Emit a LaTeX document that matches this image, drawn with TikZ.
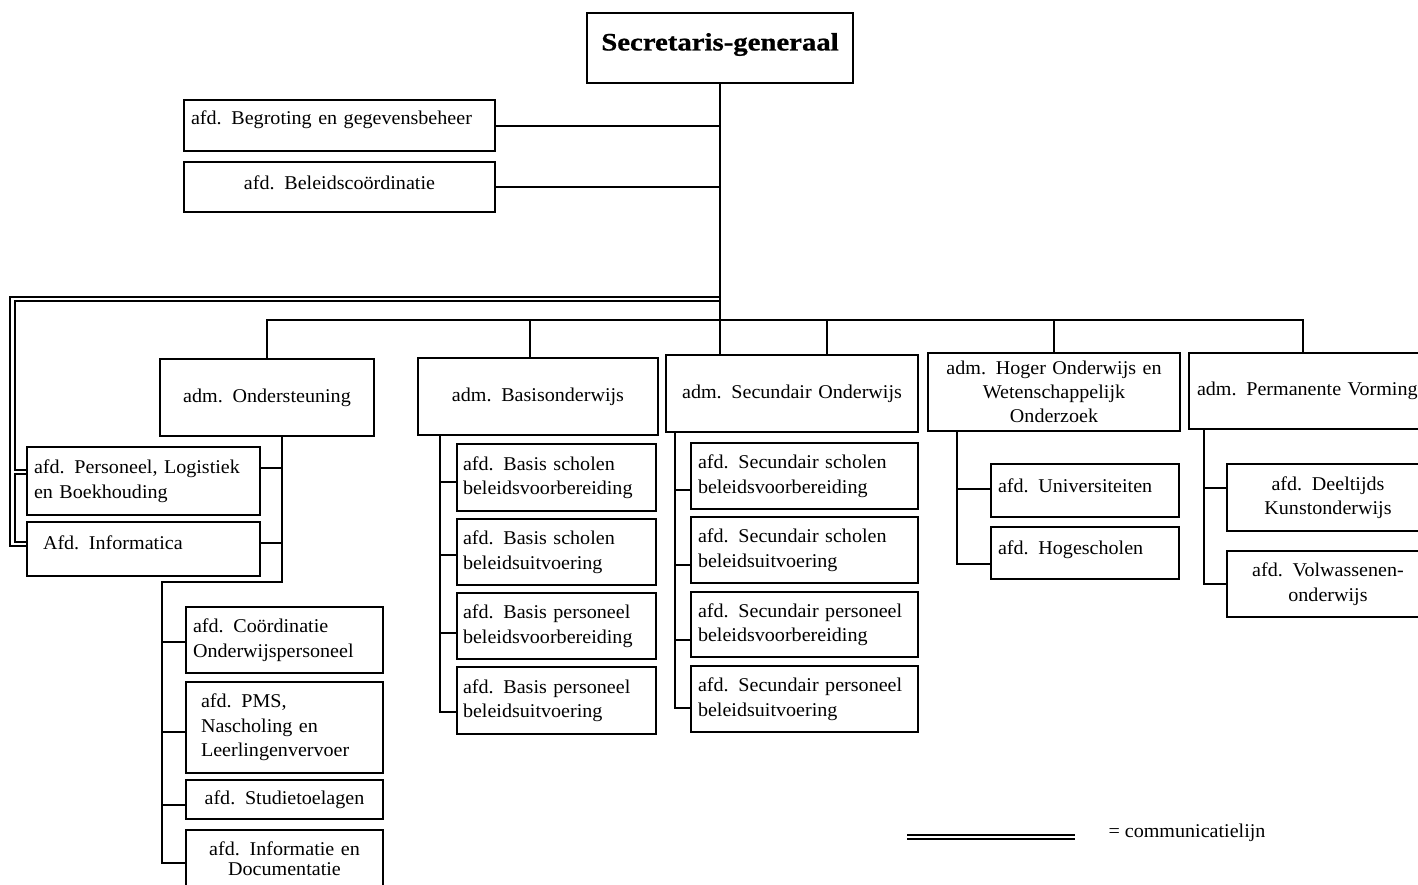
\documentclass[tikz,border=0pt]{standalone}
\usepackage{fontspec}
\setmainfont[FakeStretch=1.03]{Liberation Serif}
\newfontfamily\titlefont[FakeStretch=1.15,FakeBold=0.8]{Liberation Serif}
\usetikzlibrary{calc}
\begin{document}
\begin{tikzpicture}[x=1pt,y=-1pt,
  every node/.style={font=\fontsize{19.5}{24.5}\selectfont},
  unit/.style={draw, line width=2pt, inner ysep=0pt, anchor=north west},
  lft/.style={align=left},
  ctr/.style={align=center},
  link/.style={line width=2pt},
  comm/.style={draw, double, line width=1.8pt, double distance=2.8pt}]
\useasboundingbox[fill=white] (0,0) rectangle (1418,884);

% top
\node[unit, ctr, inner xsep=7pt, text width=252pt, minimum height=70pt, text depth=12.5pt,
  font=\titlefont\bfseries\fontsize{25}{30}\selectfont] (sg) at (586,12) {Secretaris-generaal};
\node[unit, lft, inner xsep=7pt, text width=297pt, minimum height=51pt, text depth=15pt] (beg) at (183,99) {afd. Begroting en gegevensbeheer};
\node[unit, ctr, inner xsep=7pt, text width=297pt, minimum height=50pt, text depth=8pt] (bel) at (183,161) {afd. Beleidscoördinatie};

% administrations
\node[unit, ctr, inner xsep=7pt, text width=200pt, minimum height=77pt] (ond) at (159,358) {adm. Ondersteuning};
\node[unit, ctr, inner xsep=7pt, text width=226pt, minimum height=77pt] (bas) at (417,357) {adm. Basisonderwijs};
\node[unit, ctr, inner xsep=7pt, text width=238pt, minimum height=77pt] (sec) at (665,354) {adm. Secundair Onderwijs};
\node[unit, ctr, inner xsep=7pt, text width=238pt, minimum height=78pt, font=\fontsize{19.5}{24}\selectfont] (hog) at (927,352) {adm. Hoger Onderwijs en\\Wetenschappelijk\\Onderzoek};
\node[unit, lft, inner xsep=8pt, text width=250pt, minimum height=76pt] (per) at (1188,352) {adm. Permanente Vorming};

% Ondersteuning
\node[unit, lft, inner xsep=7pt, text width=219pt, minimum height=68pt] (pl) at (26,446) {afd. Personeel, Logistiek\\en Boekhouding};
\node[unit, lft, inner xsep=16pt, text width=201pt, minimum height=54pt, text depth=13pt] (inf) at (26,521) {Afd. Informatica};
\node[unit, lft, inner xsep=7pt, text width=183pt, minimum height=66pt] (coo) at (185,606) {afd. Coördinatie\\Onderwijspersoneel};
\node[unit, lft, inner xsep=15pt, text width=167pt, minimum height=91pt] (pms) at (185,681) {afd. PMS,\\Nascholing en\\Leerlingenvervoer};
\node[unit, ctr, inner xsep=7pt, text width=183pt, minimum height=39pt] (stu) at (185,779) {afd. Studietoelagen};
\node[unit, ctr, inner xsep=7pt, text width=183pt, minimum height=57pt, font=\fontsize{19.5}{20}\selectfont] (idc) at (185,829) {afd. Informatie en\\Documentatie};

% Basis
\node[unit, lft, inner xsep=6pt, text width=187pt, minimum height=67pt] (b1) at (456,443) {afd. Basis scholen\\beleidsvoorbereiding};
\node[unit, lft, inner xsep=6pt, text width=187pt, minimum height=66pt] (b2) at (456,518) {afd. Basis scholen\\beleidsuitvoering};
\node[unit, lft, inner xsep=6pt, text width=187pt, minimum height=66pt] (b3) at (456,592) {afd. Basis personeel\\beleidsvoorbereiding};
\node[unit, lft, inner xsep=6pt, text width=187pt, minimum height=67pt] (b4) at (456,666) {afd. Basis personeel\\beleidsuitvoering};

% Secundair
\node[unit, lft, inner xsep=7pt, text width=213pt, minimum height=66pt] (s1) at (690,442) {afd. Secundair scholen\\beleidsvoorbereiding};
\node[unit, lft, inner xsep=7pt, text width=213pt, minimum height=66pt] (s2) at (690,516) {afd. Secundair scholen\\beleidsuitvoering};
\node[unit, lft, inner xsep=7pt, text width=213pt, minimum height=65pt] (s3) at (690,591) {afd. Secundair personeel\\beleidsvoorbereiding};
\node[unit, lft, inner xsep=7pt, text width=213pt, minimum height=66pt] (s4) at (690,665) {afd. Secundair personeel\\beleidsuitvoering};

% Hoger
\node[unit, lft, inner xsep=7pt, text width=174pt, minimum height=53pt, text depth=9pt] (uni) at (990,463) {afd. Universiteiten};
\node[unit, lft, inner xsep=7pt, text width=174pt, minimum height=52pt, text depth=10.5pt] (hgs) at (990,526) {afd. Hogescholen};

% Permanente
\node[unit, ctr, inner xsep=7pt, text width=188pt, minimum height=67pt] (dkw) at (1226,463) {afd. Deeltijds\\Kunstonderwijs};
\node[unit, ctr, inner xsep=7pt, text width=188pt, minimum height=66pt] (vol) at (1226,550) {afd. Volwassenen-\\onderwijs};

% communication line
\coordinate (cl) at (12.5,299);
\coordinate (clr) at (14.2,299);
\draw[comm] (sg.south |- cl) -- (cl) -- (cl |- 0,544) -- (inf.west |- 0,544);
\draw[comm] (clr |- 0,472) -- (pl.west |- 0,472);

% main lines
\coordinate (bus) at (0,320);
\coordinate (busr) at (1303,320);
\draw[link] (sg.south) -- (sg.south |- sec.north);
\draw[link] (beg.east) -- (beg.east -| sg.south);
\draw[link] (bel.east) -- (bel.east -| sg.south);
\draw[link] (ond.north) |- (busr) -- (busr |- per.north);
\draw[link] (bus -| 530,0) -- (bas.north -| 530,0);
\draw[link] (bus -| 827,0) -- (sec.north -| 827,0);
\draw[link] (bus -| hog.north) -- (hog.north);

% Ondersteuning tree
\coordinate (oa) at (282,582);
\coordinate (ob) at (162,582);
\coordinate (oc) at (162,863);
\draw[link] (ond.south -| oa) -- (oa) -- (ob) -- (oc) -- (oc -| idc.west);
\draw[link] (pl.east |- 0,468) -- (oa |- 0,468);
\draw[link] (inf.east |- 0,543) -- (oa |- 0,543);
\draw[link] (ob |- 0,642) -- (coo.west |- 0,642);
\draw[link] (ob |- 0,732) -- (pms.west |- 0,732);
\draw[link] (ob |- 0,805) -- (stu.west |- 0,805);

% Basis tree
\coordinate (ba) at (440,712);
\draw[link] (bas.south -| ba) -- (ba) -- (b4.west |- ba);
\draw[link] (ba |- 0,482) -- (b1.west |- 0,482);
\draw[link] (ba |- 0,555) -- (b2.west |- 0,555);
\draw[link] (ba |- 0,633) -- (b3.west |- 0,633);

% Secundair tree
\coordinate (sa) at (675,708);
\draw[link] (sec.south -| sa) -- (sa) -- (s4.west |- sa);
\draw[link] (sa |- 0,490) -- (s1.west |- 0,490);
\draw[link] (sa |- 0,565) -- (s2.west |- 0,565);
\draw[link] (sa |- 0,640) -- (s3.west |- 0,640);

% Hoger tree
\coordinate (ha) at (957,564);
\draw[link] (hog.south -| ha) -- (ha) -- (hgs.west |- ha);
\draw[link] (ha |- 0,489) -- (uni.west |- 0,489);

% Permanente tree
\coordinate (pa) at (1204,584);
\draw[link] (per.south -| pa) -- (pa) -- (vol.west |- pa);
\draw[link] (pa |- 0,488) -- (dkw.west |- 0,488);

% legend
\coordinate (lg1) at (907,837);
\coordinate (lg2) at (1075,837);
\draw[comm] (lg1) -- (lg2);
\node[anchor=base west] (lgt) at (1105,837) {= communicatielijn};
\end{tikzpicture}
\end{document}
